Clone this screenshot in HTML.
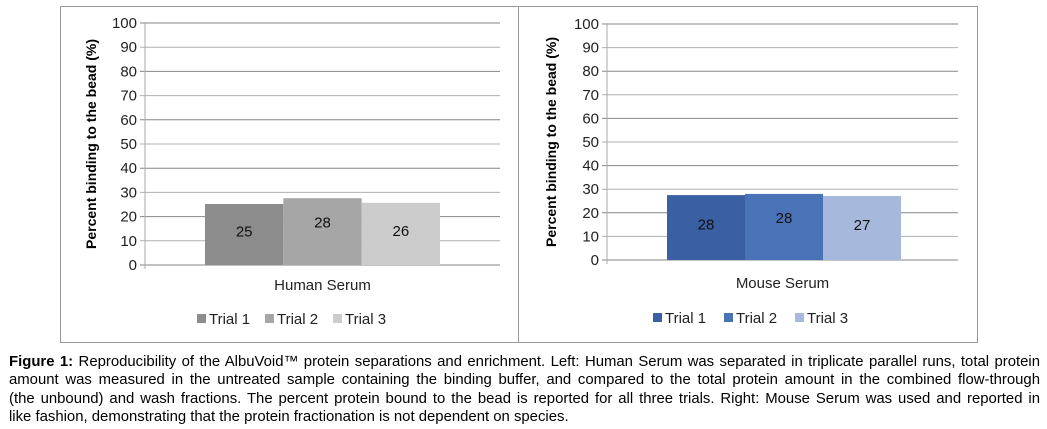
<!DOCTYPE html>
<html><head><meta charset="utf-8"><style>
body{margin:0;width:1047px;height:429px;background:#fff;overflow:hidden;font-family:"Liberation Sans",sans-serif}
svg text{font-family:"Liberation Sans",sans-serif}
#cap{position:absolute;left:9px;top:353px;width:1031px;font-size:14.9px;line-height:18.3px;color:#000}
#cap span{display:block;white-space:nowrap;text-align:justify;text-align-last:justify}
#cap span.last{text-align-last:left}
</style></head><body>
<svg id="s" width="1047" height="345" style="position:absolute;left:0;top:0">
<rect x="60.5" y="6.5" width="458" height="336" fill="none" stroke="#999"/>
<rect x="518.5" y="6.5" width="459" height="336" fill="none" stroke="#999"/>
</svg>
<div id="cap"><span style="white-space:normal"><b>Figure 1:</b> Reproducibility of the AlbuVoid™ protein separations and enrichment. Left: Human Serum was separated in triplicate parallel runs, total protein</span><span style="white-space:normal">amount was measured in the untreated sample containing the binding buffer, and compared to the total protein amount in the combined flow-through</span><span style="white-space:normal">(the unbound) and wash fractions. The percent protein bound to the bead is reported for all three trials. Right: Mouse Serum was used and reported in</span><span class="last">like fashion, demonstrating that the protein fractionation is not dependent on species.</span></div>
<script>
const trials=["Trial 1","Trial 2","Trial 3"];
const humanValues=[25.2,27.6,25.7];
const humanLabels=["25","28","26"];
const mouseValues=[27.5,28.0,27.1];
const mouseLabels=["28","28","27"];
const yTicks=[0,10,20,30,40,50,60,70,80,90,100];
const humanColors=["#8c8c8c","#a6a6a6","#cccccc"];
const mouseColors=["#3a5fa2","#4a73b7","#a6b9dc"];
const NS="http://www.w3.org/2000/svg";
const svg=document.getElementById('s');
function mk(t,a){const e=document.createElementNS(NS,t);for(const k in a)e.setAttribute(k,a[k]);svg.appendChild(e);return e;}
function chart(p,prefix){
  const y=v=>p.y0-(v/100)*(p.y0-p.y100);
  yTicks.forEach(t=>{
    const l=mk('line',{x1:p.ax-5,x2:p.right,y1:y(t),y2:y(t),stroke:t%20==0?'#868686':'#b0b0b0','stroke-width':1});
    
    
    const tx=mk('text',{x:p.ax-8,y:y(t)+5,'text-anchor':'end','font-size':15,fill:'#222'});
    tx.textContent=t;
    
    
  });
  const ax=mk('line',{x1:p.ax,x2:p.ax,y1:p.y100,y2:p.y0+4,stroke:'#aaa'});
  
  
  const bw=(p.barEnd-p.barStart)/p.values.length;
  p.values.forEach((v,i)=>{
    const r=mk('rect',{x:p.barStart+i*bw,y:y(v),width:bw,height:p.y0-y(v),fill:p.colors[i]});
    
    
    const tx=mk('text',{x:p.barStart+i*bw+bw/2,y:(y(v)+p.y0)/2+(i==1?-4:2),'text-anchor':'middle','font-size':15,fill:'#111'});
    tx.textContent=p.labels[i];
    
    
  });
  const cl=mk('text',{x:(p.ax+p.right)/2,y:p.catY,'text-anchor':'middle','font-size':15,fill:'#222'});
  cl.textContent=p.cat;
  
  
  const yt=mk('text',{transform:`translate(${p.titleX},${(p.y0+p.y100)/2}) rotate(-90)`,'text-anchor':'middle','font-size':14,'font-weight':'bold',fill:'#000'});
  yt.textContent='Percent binding to the bead (%)';
  
  
  trials.forEach((t,i)=>{
    const lx=p.legX+i*p.legStep;
    const sq=mk('rect',{x:lx,y:p.legY-5,width:9,height:9,fill:p.colors[i]});
    
    
    const tx=mk('text',{x:lx+12,y:p.legY+5,'font-size':15,fill:'#222'});
    tx.textContent=t;
    
    
  });
}
chart({ax:145,right:500,y0:265,y100:23,barStart:205,barEnd:440,values:humanValues,labels:humanLabels,colors:humanColors,cat:'Human Serum',catY:290,titleX:96,legX:197,legStep:68,legY:319},'human');
chart({ax:607,right:958,y0:260,y100:24,barStart:667,barEnd:901,values:mouseValues,labels:mouseLabels,colors:mouseColors,cat:'Mouse Serum',catY:288,titleX:556,legX:653,legStep:71,legY:318},'mouse');
</script>
</body></html>
